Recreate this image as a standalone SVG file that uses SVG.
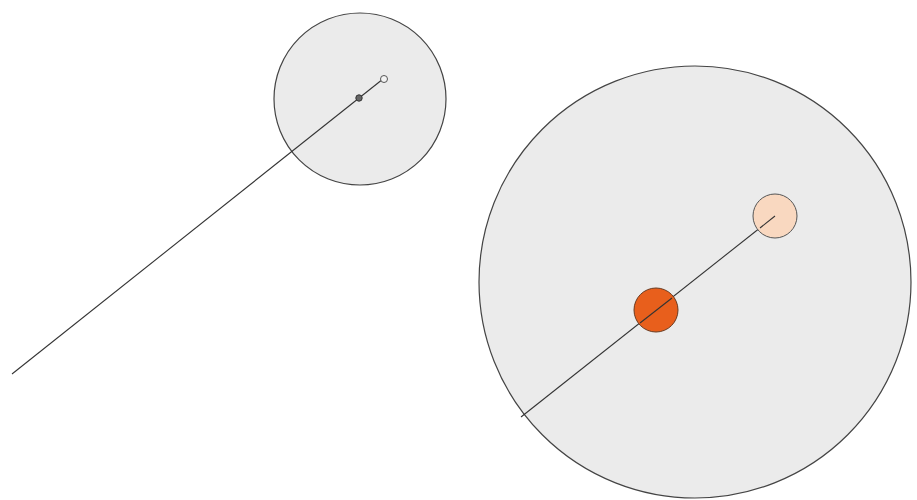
<svg xmlns="http://www.w3.org/2000/svg" width="917" height="500" viewBox="0 0 917 500">
<style>
.big{fill:#ebebeb;stroke:#444;stroke-width:1.2}
.ln{stroke:#333;stroke-width:1.1;fill:none}
</style>
<rect width="917" height="500" fill="#fff"/>
<g id="small-circle"><circle class="big" cx="360" cy="99" r="86"/></g>
<g id="large-circle"><circle class="big" cx="695" cy="282" r="216"/></g>
<g id="connectors">
<line class="ln" x1="12" y1="374" x2="383" y2="79"/>
<line class="ln" x1="521" y1="417" x2="775" y2="216"/>
</g>
<g id="dot-dark-small"><circle cx="359" cy="98" r="3.2" fill="#666" stroke="#333" stroke-width="1"/></g>
<g id="dot-light-small"><circle cx="384" cy="79" r="3.5" fill="#f3f3f3" stroke="#555" stroke-width="1"/></g>
<g id="dot-orange"><circle cx="656" cy="310" r="22" fill="#e85f1c" stroke="#6a3a20" stroke-width="1"/><line class="ln" x1="640" y1="323" x2="672" y2="298"/></g>
<g id="dot-peach"><circle cx="775" cy="216" r="22" fill="#f9d8c0" stroke="#555" stroke-width="1"/><line class="ln" x1="760" y1="228" x2="775" y2="216"/></g>
</svg>
